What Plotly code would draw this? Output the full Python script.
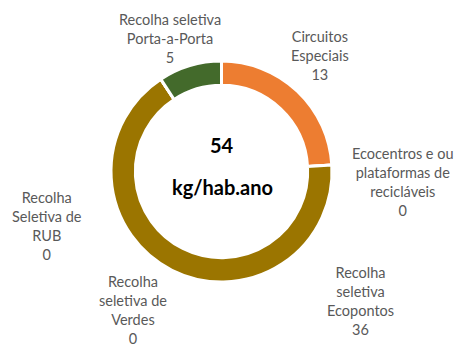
import plotly.graph_objects as go

# Recolha seletiva por fluxo (kg/hab.ano)
labels = [
    "Circuitos<br>Especiais",
    "Ecocentros e ou<br>plataformas de<br>recicláveis",
    "Recolha<br>seletiva<br>Ecopontos",
    "Recolha<br>seletiva de<br>Verdes",
    "Recolha<br>Seletiva de<br>RUB",
    "Recolha seletiva<br>Porta-a-Porta",
]
values = [13, 0, 36, 0, 0, 5]
colors = ["#ED7D31", "#A5A5A5", "#9B7500", "#5B9BD5", "#264478", "#436A2B"]
total_label = "54"
unit_label = "kg/hab.ano"

# label anchor points (pixels, centre of text block)
label_x = [320, 403, 360, 133, 47, 170]
label_y = [56, 182, 301, 310, 226, 39]

W, H = 457, 347

fig = go.Figure()
fig.add_trace(go.Pie(
    labels=labels,
    values=values,
    hole=0.78,
    sort=False,
    direction="clockwise",
    rotation=0,
    marker=dict(colors=colors, line=dict(color="white", width=3)),
    textinfo="none",
    hoverinfo="label+value",
    showlegend=False,
    domain=dict(x=[111 / W, 332 / W], y=[1 - 282 / H, 1 - 61 / H]),
))

font_lbl = dict(family="Lato, 'Open Sans', sans-serif", size=14.5, color="#595959")
for lab, val, x, y in zip(labels, values, label_x, label_y):
    fig.add_annotation(
        x=x / W, y=1 - y / H, xref="paper", yref="paper",
        text=f"{lab}<br>{val}", showarrow=False, font=font_lbl,
        align="center", xanchor="center", yanchor="middle",
    )

font_ctr = dict(family="Lato, 'Open Sans', sans-serif", size=20, color="#000000")
fig.add_annotation(x=222 / W, y=1 - 145 / H, xref="paper", yref="paper",
                   text=f"<b>{total_label}</b>", showarrow=False, font=font_ctr)
fig.add_annotation(x=222 / W, y=1 - 187 / H, xref="paper", yref="paper",
                   text=f"<b>{unit_label}</b>", showarrow=False, font=font_ctr)

fig.update_layout(
    width=W, height=H,
    margin=dict(l=0, r=0, t=0, b=0),
    paper_bgcolor="white", plot_bgcolor="white",
)

fig.write_html("out.html")
